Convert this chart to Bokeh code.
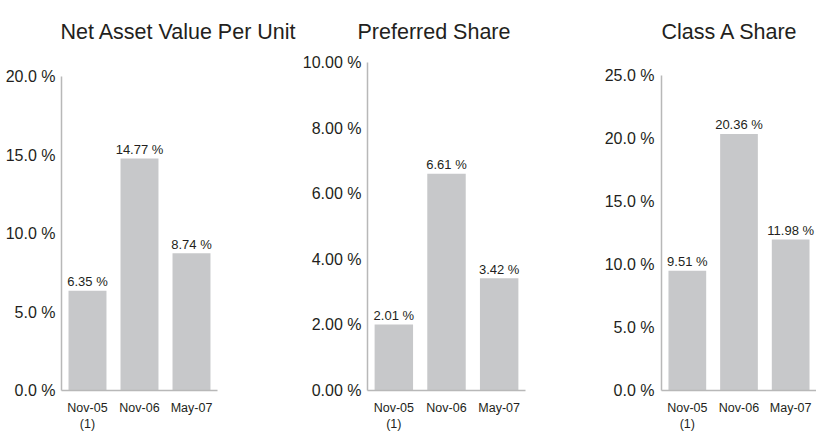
from bokeh.plotting import figure
from bokeh.layouts import row
from bokeh.models import Range1d, FactorRange, FixedTicker, Title, ColumnDataSource
from bokeh.core.properties import value
from bokeh.embed import file_html
from bokeh.resources import INLINE

# ---- data ----
periods = ["Nov-05\n(1)", "Nov-06", "May-07"]

titles = ["Net Asset Value Per Unit", "Preferred Share", "Class A Share"]

nav_values = [6.35, 14.77, 8.74]
pref_values = [2.01, 6.61, 3.42]
classa_values = [9.51, 20.36, 11.98]

nav_ticks = [0, 5, 10, 15, 20]
nav_tick_labels = ["0.0 %", "5.0 %", "10.0 %", "15.0 %", "20.0 %"]
pref_ticks = [0, 2, 4, 6, 8, 10]
pref_tick_labels = ["0.00 %", "2.00 %", "4.00 %", "6.00 %", "8.00 %", "10.00 %"]
classa_ticks = [0, 5, 10, 15, 20, 25]
classa_tick_labels = ["0.0 %", "5.0 %", "10.0 %", "15.0 %", "20.0 %", "25.0 %"]

FONT = "Liberation Sans"
TEXT = "#231f20"
BAR = "#c7c8ca"
AXIS = "#b8b8b8"

H = 434
TOP = 62          # common top border
BOTTOM = 44       # bottom border
FRAME_H = H - TOP - BOTTOM


def make_panel(title, vals, ticks, tick_labels, width, bl, br,
               axis_top_px, label_standoff, title_offset):
    ymax = ticks[-1]
    yend = ymax * FRAME_H / (FRAME_H - axis_top_px)
    p = figure(
        x_range=FactorRange(*periods, range_padding=0),
        y_range=Range1d(0, yend),
        width=width, height=H,
        min_border_left=bl, min_border_right=br,
        min_border_top=TOP, min_border_bottom=BOTTOM,
        output_backend="svg", toolbar_location=None,
    )
    t = Title(text=title, align="left", vertical_align="top", offset=title_offset,
              standoff=34, text_font=FONT, text_font_size="21.5px",
              text_font_style="normal", text_color=TEXT)
    p.add_layout(t, "above")

    src = ColumnDataSource(dict(
        x=periods, top=vals, lab=[f"{v:.2f} %" for v in vals]))
    p.vbar(x="x", top="top", width=0.73, source=src, fill_color=BAR, line_color=None)
    p.text(x="x", y="top", text="lab", source=src, text_align="center",
           text_baseline="alphabetic", y_offset=-9, text_font=value(FONT),
           text_font_size="13px", text_color=TEXT)

    p.outline_line_color = None
    p.background_fill_color = None
    p.border_fill_color = None
    p.xgrid.visible = False
    p.ygrid.visible = False

    ya = p.yaxis[0]
    ya.ticker = FixedTicker(ticks=ticks)
    ya.bounds = (0, ymax)
    ya.major_label_overrides = {float(k): s for k, s in zip(ticks, tick_labels)}
    ya.major_tick_line_color = None
    ya.major_tick_out = 0
    ya.major_tick_in = 0
    ya.minor_tick_line_color = None
    ya.axis_line_color = AXIS
    ya.axis_line_width = 1.5
    ya.major_label_standoff = label_standoff
    ya.major_label_text_font = FONT
    ya.major_label_text_font_size = "16px"
    ya.major_label_text_color = TEXT

    xa = p.xaxis[0]
    xa.major_tick_line_color = None
    xa.major_tick_out = 0
    xa.major_tick_in = 0
    xa.minor_tick_line_color = None
    xa.axis_line_color = AXIS
    xa.axis_line_width = 1.5
    xa.major_label_standoff = 10
    xa.major_label_text_font = FONT
    xa.major_label_text_font_size = "12.5px"
    xa.major_label_text_color = TEXT
    xa.major_label_text_line_height = 1.2
    return p


p1 = make_panel(titles[0], nav_values, nav_ticks, nav_tick_labels,
                299, 61, 82, 14, 6, -1)
p2 = make_panel(titles[1], pref_values, pref_ticks, pref_tick_labels,
                301, 65, 75, 0, 6, -10)
p3 = make_panel(titles[2], classa_values, classa_ticks, classa_tick_labels,
                216, 61, 0, 13, 7, 0)

layout = row(p1, p2, p3, spacing=0)

open("out.html", "w").write(file_html(layout, INLINE))
